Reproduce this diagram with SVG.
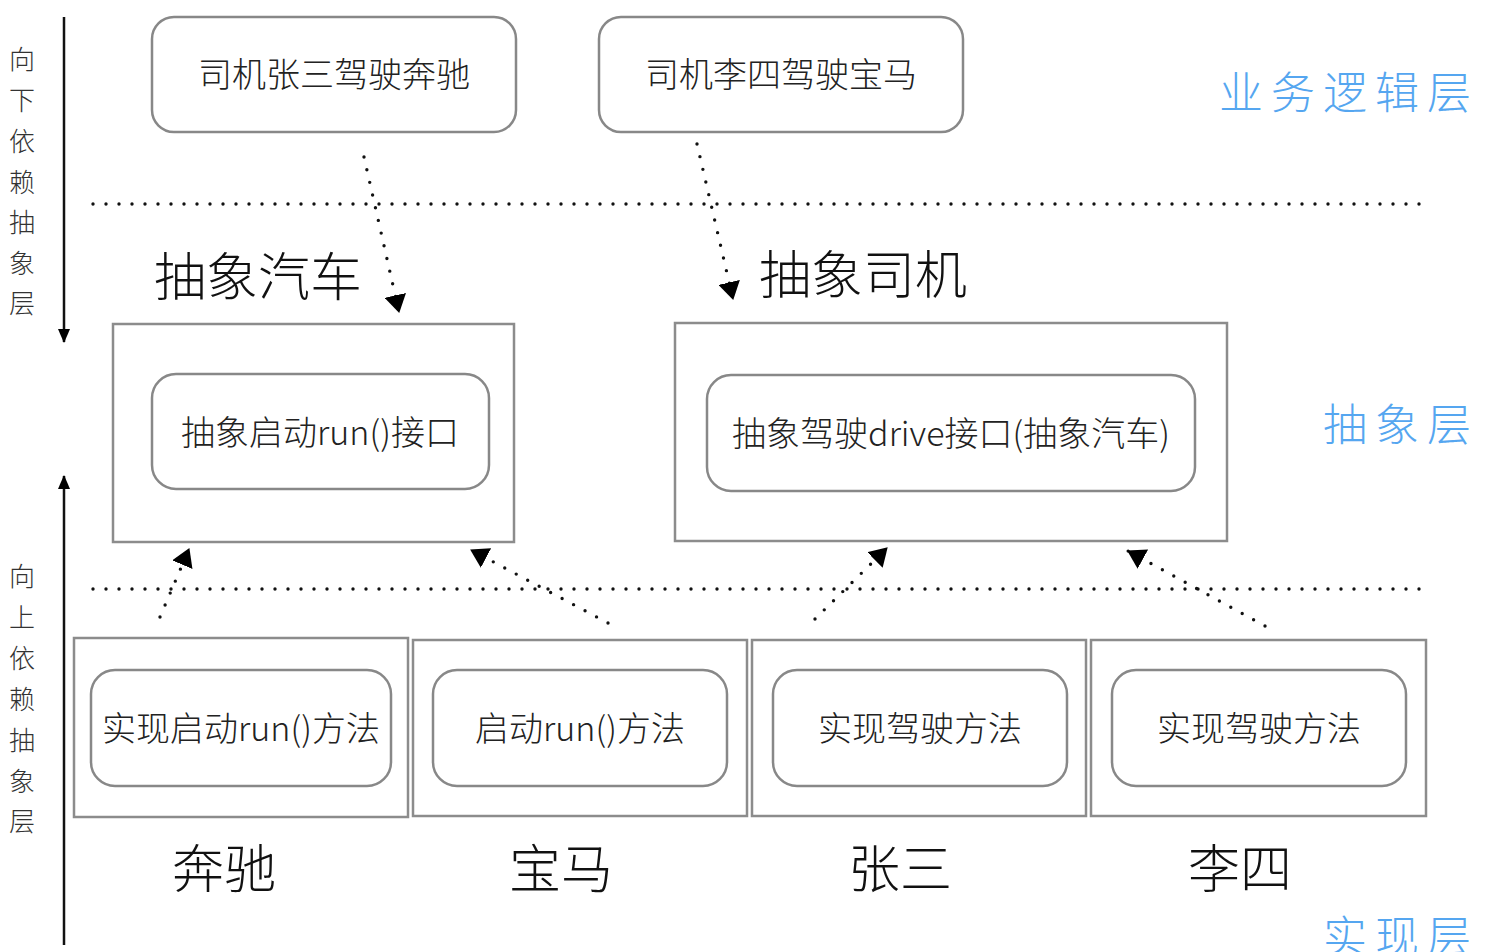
<svg xmlns="http://www.w3.org/2000/svg" width="1512" height="952" viewBox="0 0 1512 952">
<style>
  .outer{fill:#fff;stroke:#8c8c8c;stroke-width:2.5}
  .inner{fill:#fff;stroke:#888;stroke-width:2.5}
  .t{font-family:"Noto Sans CJK SC","Noto Sans",sans-serif;font-weight:300;fill:#222;text-anchor:middle;dominant-baseline:central}
  .box{font-size:34px}
  .big{font-size:52px;fill:#111}
  .side{font-size:26px;fill:#333}
  .layer{font-family:"Noto Sans CJK SC",sans-serif;font-weight:300;font-size:44px;fill:#55a6f0;text-anchor:end;dominant-baseline:central;letter-spacing:8px}
  .dots{fill:none;stroke:#111;stroke-width:3.4;stroke-linecap:round;stroke-dasharray:0 13}
  .dep{fill:none;stroke:#111;stroke-width:3.4;stroke-linecap:round;stroke-dasharray:0 13;marker-end:url(#tri)}
  .axis{fill:none;stroke:#111;stroke-width:2.5;marker-end:url(#ax)}
</style>
<defs>
  <marker id="tri" viewBox="0 0 18 22" refX="17" refY="11" markerWidth="18" markerHeight="22" markerUnits="userSpaceOnUse" orient="auto">
    <path d="M0,0 L18,11 L0,22 z" fill="#000"/>
  </marker>
  <marker id="ax" viewBox="0 0 14 12" refX="13" refY="6" markerWidth="14" markerHeight="12" markerUnits="userSpaceOnUse" orient="auto">
    <path d="M0,0 L14,6 L0,12 z" fill="#000"/>
  </marker>
</defs>
<rect width="1512" height="952" fill="#fff"/>

<g id="axis-down">
  <line class="axis" x1="64" y1="17" x2="64" y2="342"/>
  <text class="t side"><tspan x="22" y="57">向</tspan><tspan x="22" y="98">下</tspan><tspan x="22" y="139">依</tspan><tspan x="22" y="180">赖</tspan><tspan x="22" y="220">抽</tspan><tspan x="22" y="261">象</tspan><tspan x="22" y="301">层</tspan></text>
</g>
<g id="axis-up">
  <line class="axis" x1="64" y1="945" x2="64" y2="476"/>
  <text class="t side"><tspan x="22" y="574">向</tspan><tspan x="22" y="615">上</tspan><tspan x="22" y="656">依</tspan><tspan x="22" y="697">赖</tspan><tspan x="22" y="738">抽</tspan><tspan x="22" y="779">象</tspan><tspan x="22" y="819">层</tspan></text>
</g>

<g id="separators">
  <line class="dots" x1="93" y1="204" x2="1428" y2="204"/>
  <line class="dots" x1="93" y1="589" x2="1428" y2="589"/>
</g>

<g id="layer-labels">
  <text class="layer" x="1479" y="90">业务逻辑层</text>
  <text class="layer" x="1479" y="422">抽象层</text>
  <text class="layer" x="1479" y="934">实现层</text>
</g>

<g id="driver-zhangsan">
  <rect class="inner" x="152" y="17" width="364" height="115" rx="22"/>
  <text class="t box" x="334" y="72">司机张三驾驶奔驰</text>
</g>
<g id="driver-lisi">
  <rect class="inner" x="599" y="17" width="364" height="115" rx="22"/>
  <text class="t box" x="781" y="72">司机李四驾驶宝马</text>
</g>

<g id="abstract-car">
  <text class="t big" x="258" y="273">抽象汽车</text>
  <rect class="outer" x="113" y="324" width="401" height="218"/>
  <rect class="inner" x="152" y="374" width="337" height="115" rx="24"/>
  <text class="t box" x="320" y="430">抽象启动run()接口</text>
</g>
<g id="abstract-driver">
  <text class="t big" x="863" y="271">抽象司机</text>
  <rect class="outer" x="675" y="323" width="552" height="218"/>
  <rect class="inner" x="707" y="375" width="488" height="116" rx="24"/>
  <text class="t box" x="951" y="431">抽象驾驶drive接口(抽象汽车)</text>
</g>

<g id="impl-benz">
  <rect class="outer" x="74" y="638" width="334" height="179"/>
  <rect class="inner" x="91" y="670" width="300" height="116" rx="24"/>
  <text class="t box" x="241" y="726">实现启动run()方法</text>
  <text class="t big" x="224" y="865">奔驰</text>
</g>
<g id="impl-bmw">
  <rect class="outer" x="413" y="640" width="334" height="176"/>
  <rect class="inner" x="433" y="670" width="294" height="116" rx="24"/>
  <text class="t box" x="580" y="726">启动run()方法</text>
  <text class="t big" x="561" y="865">宝马</text>
</g>
<g id="impl-zhangsan">
  <rect class="outer" x="752" y="640" width="334" height="176"/>
  <rect class="inner" x="773" y="670" width="294" height="116" rx="24"/>
  <text class="t box" x="920" y="726">实现驾驶方法</text>
  <text class="t big" x="900" y="865">张三</text>
</g>
<g id="impl-lisi">
  <rect class="outer" x="1091" y="640" width="335" height="176"/>
  <rect class="inner" x="1112" y="670" width="294" height="116" rx="24"/>
  <text class="t box" x="1259" y="726">实现驾驶方法</text>
  <text class="t big" x="1240" y="865">李四</text>
</g>

<g id="connectors">
  <line class="dep" x1="364" y1="157" x2="399" y2="312"/>
  <line class="dep" x1="697" y1="144" x2="733" y2="299"/>
  <line class="dep" x1="160" y1="617" x2="189" y2="549"/>
  <line class="dep" x1="608" y1="623" x2="471" y2="550"/>
  <line class="dep" x1="815" y1="619" x2="887" y2="548"/>
  <line class="dep" x1="1265" y1="626" x2="1128" y2="551"/>
</g>
</svg>
